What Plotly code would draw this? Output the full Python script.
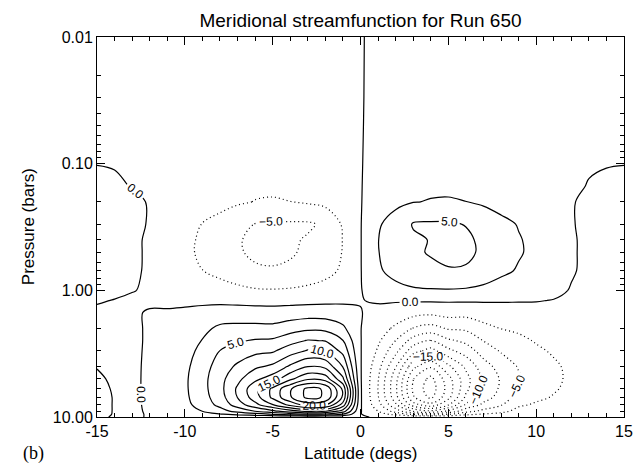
import plotly.graph_objects as go

# latitude (degs) and pressure (bars) of the grid
lat = list(range(-15, 16))
pres = [0.01, 0.03, 0.1, 0.15, 0.2, 0.3, 0.4, 0.5, 0.7, 1.0, 1.2, 1.5,
        2, 2.5, 3, 4, 5, 6, 7, 8, 9, 9.5, 10]

# streamfunction, one row per pressure level (lat -15 .. 15)
psi = [
    [-0.2, -0.2, -0.2, -0.2, -0.2, -0.2, -0.22, -0.25, -0.28, -0.31, -0.33, -0.32, -0.3, -0.25, -0.18, -0.05,
     0.18, 0.25, 0.3, 0.32, 0.33, 0.32, 0.3, 0.27, 0.24, 0.22, 0.2, 0.2, 0.2, 0.2, 0.2],
    [-0.2, -0.2, -0.2, -0.2, -0.2, -0.24, -0.35, -0.44, -0.55, -0.65, -0.67, -0.64, -0.56, -0.46, -0.3, -0.06,
     0.25, 0.48, 0.61, 0.66, 0.67, 0.64, 0.54, 0.42, 0.32, 0.24, 0.2, 0.2, 0.2, 0.2, 0.2],
    [-0.02, -0.08, -0.15, -0.2, -0.34, -0.56, -0.81, -1.04, -1.29, -1.51, -1.57, -1.48, -1.32, -1.06, -0.7, -0.1,
     0.7, 1.12, 1.43, 1.54, 1.57, 1.48, 1.26, 0.98, 0.76, 0.56, 0.34, 0.15, 0.1, 0.05, 0.02],
    [0.25, 0.2, -0.05, -0.3, -0.46, -0.76, -1.1, -1.41, -1.75, -2.05, -2.13, -2.01, -1.79, -1.44, -0.95, -0.1,
     0.95, 1.52, 1.94, 2.09, 2.13, 2.01, 1.71, 1.33, 1.03, 0.76, 0.46, 0.2, -0.05, -0.2, -0.25],
    [0.35, 0.35, 0.25, -0.08, -0.57, -0.95, -1.38, -1.76, -2.19, -2.57, -2.66, -2.52, -2.23, -1.8, -1.19, -0.1,
     1.19, 1.9, 2.42, 2.61, 2.66, 2.52, 2.14, 1.66, 1.28, 0.95, 0.57, 0.08, -0.25, -0.35, -0.35],
    [0.45, 0.45, 0.35, -0.1, -1.06, -1.76, -2.55, -3.26, -4.3, -5.05, -5.3, -5.3, -5.3, -4.6, -2.2, -0.1,
     2.2, 3.6, 5.2, 5.3, 5.3, 4.9, 4.0, 3.08, 2.38, 1.76, 1.06, 0.1, -0.35, -0.5, -0.5],
    [0.55, 0.55, 0.4, -0.3, -1.18, -1.96, -2.84, -3.63, -4.8, -5.5, -5.6, -5.3, -4.8, -3.72, -2.45, -0.1,
     2.45, 3.92, 4.6, 5.1, 5.6, 5.45, 4.5, 3.43, 2.65, 1.96, 1.18, 0.2, -0.4, -0.55, -0.55],
    [0.6, 0.6, 0.4, -0.3, -1.2, -2.0, -2.9, -3.7, -4.7, -5.5, -5.7, -5.25, -4.6, -3.8, -2.4, -0.1,
     2.4, 4.0, 4.7, 5.15, 5.7, 5.5, 4.6, 3.5, 2.7, 2.0, 1.2, 0.2, -0.4, -0.6, -0.6],
    [0.55, 0.5, 0.35, -0.3, -1.02, -1.7, -2.47, -3.15, -3.91, -4.6, -4.75, -4.6, -4.0, -3.23, -2.13, -0.1,
     2.13, 3.4, 4.34, 4.6, 4.8, 4.75, 4.0, 2.98, 2.3, 1.7, 1.02, 0.15, -0.35, -0.5, -0.55],
    [0.4, 0.35, 0.1, -0.3, -0.5, -0.84, -1.22, -1.55, -1.93, -2.27, -2.35, -2.23, -1.97, -1.6, -1.05, -0.1,
     1.05, 1.68, 2.14, 2.31, 2.35, 2.23, 1.89, 1.47, 1.13, 0.84, 0.4, -0.1, -0.4, -0.5, -0.5],
    [0.15, -0.05, -0.35, -0.4, -0.4, -0.4, -0.45, -0.55, -0.69, -0.81, -0.84, -0.8, -0.7, -0.57, -0.4, -0.05,
     0.15, 0.2, 0.25, 0.28, 0.28, 0.27, 0.23, 0.18, 0.13, 0.08, -0.05, -0.3, -0.45, -0.5, -0.5],
    [-0.3, -0.3, -0.3, 0.2, 0.2, 0.32, 0.63, 1.0, 1.06, 1.02, 0.93, 1.15, 1.33, 1.28, 0.88, 0.05,
     -0.4, -0.96, -1.64, -1.92, -1.52, -1.66, -1.19, -0.89, -0.79, -0.6, -0.47, -0.35, -0.4, -0.45, -0.45],
    [-0.3, -0.3, -0.3, 0.2, 0.59, 0.95, 1.89, 3.0, 3.18, 3.19, 3.16, 3.89, 4.5, 4.34, 2.98, 0.05,
     -1.25, -3.0, -5.13, -6.0, -4.75, -4.55, -3.27, -2.46, -2.1, -1.6, -1.24, -0.88, -0.6, -0.45, -0.45],
    [-0.3, -0.3, -0.3, 0.2, 0.81, 1.3, 2.6, 4.15, 4.77, 5.22, 5.39, 6.64, 7.69, 7.4, 5.08, 0.09,
     -2.1, -5.04, -8.61, -10.08, -7.98, -6.9, -4.95, -3.73, -3.05, -2.32, -1.8, -1.28, -0.87, -0.58, -0.45],
    [-0.25, -0.3, -0.3, 0.23, 0.98, 1.58, 3.15, 5.03, 6.04, 6.82, 7.16, 8.82, 10.2, 9.82, 6.74, 0.12,
     -2.8, -6.72, -11.48, -13.44, -10.64, -8.83, -6.34, -4.77, -3.78, -2.88, -2.23, -1.58, -1.08, -0.72, -0.5],
    [-0.05, -0.3, -0.3, 0.28, 1.2, 1.93, 3.86, 6.16, 7.95, 9.57, 10.51, 12.94, 14.97, 14.41, 9.89, 0.17,
     -4.1, -9.84, -16.81, -19.68, -15.58, -12.01, -8.61, -6.48, -4.83, -3.68, -2.85, -2.02, -1.38, -0.92, -0.64],
    [0.2, -0.2, -0.3, 0.3, 1.3, 2.1, 4.2, 6.7, 9.33, 11.89, 13.76, 16.95, 19.61, 18.87, 12.95, 0.22,
     -4.85, -11.64, -19.89, -23.28, -18.43, -13.39, -9.6, -7.23, -5.3, -3.8, -2.95, -2.09, -1.43, -0.95, -0.67],
    [0.3, -0.1, -0.3, 0.3, 1.3, 2.1, 4.2, 6.7, 10.39, 14.21, 18.04, 22.21, 25.7, 24.74, 16.98, 0.29,
     -5.05, -12.0, -20.5, -24.0, -19.0, -13.11, -9.41, -7.08, -4.62, -3.52, -2.73, -1.94, -1.32, -0.88, -0.62],
    [0.3, -0.05, -0.3, 0.29, 1.24, 2.0, 3.99, 6.37, 10.07, 13.78, 18.04, 22.21, 25.7, 24.74, 16.98, 0.29,
     -4.8, -11.52, -19.68, -23.04, -18.24, -12.01, -8.61, -6.48, -3.94, -3.0, -2.33, -1.65, -1.13, -0.75, -0.53],
    [0.3, -0.05, -0.3, 0.26, 1.1, 1.79, 3.57, 5.7, 8.69, 11.75, 14.88, 18.32, 21.2, 20.4, 14.0, 0.24,
     -4.0, -9.6, -16.4, -19.2, -15.2, -9.66, -6.93, -5.22, -2.89, -2.2, -1.71, -1.21, -0.83, -0.55, -0.39],
    [0.3, -0.05, -0.3, 0.2, 0.78, 1.26, 2.52, 4.02, 5.83, 7.54, 9.3, 11.45, 13.25, 12.75, 8.75, 0.15,
     -2.48, -6.0, -10.25, -12.0, -9.5, -5.93, -4.26, -3.2, -1.73, -1.32, -1.02, -0.73, -0.5, -0.33, -0.23],
    [0.25, -0.05, -0.3, 0.15, 0.46, 0.74, 1.47, 2.35, 3.18, 4.2, 5.21, 6.41, 7.42, 7.14, 4.9, 0.1,
     -1.4, -3.36, -5.74, -6.72, -5.32, -3.31, -2.38, -1.79, -0.95, -0.72, -0.56, -0.4, -0.27, -0.18, -0.13],
    [0.1, -0.05, -0.1, 0.05, 0.05, 0.05, 0.05, 0.05, 0.05, 0.05, 0.05, 0.05, 0.05, 0.05, 0.05, 0.05,
     -0.05, -0.05, -0.05, -0.05, -0.05, -0.05, -0.05, -0.05, -0.05, -0.05, -0.05, -0.05, -0.05, -0.05, -0.05],
]

x_ticks = [-15, -10, -5, 0, 5, 10, 15]
y_ticks = [0.01, 0.1, 1, 10]
y_ticktext = ["0.01", "0.10", "1.00", "10.00"]
y_minor = [m * 10.0 ** e for e in (-2, -1, 0) for m in range(2, 10)]

font = "Liberation Sans, Arial, sans-serif"
label_font = dict(size=12, color="black", family=font)

fig = go.Figure()


def add_levels(start, end, labelled, dash):
    fig.add_trace(go.Contour(
        x=lat, y=pres, z=psi, autocontour=False,
        contours=dict(start=start, end=end, size=5, coloring="none",
                      showlabels=labelled, labelformat=".1f", labelfont=label_font),
        line=dict(color="black", width=1.2, dash=dash),
        showscale=False, hoverinfo="skip",
    ))


# every 5.0 is labelled, the 2.5 steps between are not; negatives dotted
add_levels(0, 25, True, "solid")
add_levels(2.5, 22.5, False, "solid")
add_levels(-25, -5, True, "1px,3px")
add_levels(-22.5, -2.5, False, "1px,3px")

fig.update_layout(
    width=644, height=466,
    margin=dict(l=97, r=11, t=37, b=49),
    paper_bgcolor="white", plot_bgcolor="white",
    showlegend=False,
    font=dict(family=font, size=16, color="black"),
    title=dict(text="Meridional streamfunction for Run 650", x=0.5, xref="paper",
               y=1 - 20 / 466, yref="container", yanchor="middle",
               font=dict(size=19, family=font, color="black")),
    annotations=[
        dict(text="Latitude (degs)", xref="paper", yref="paper", x=0.5, y=0,
             yanchor="middle", yshift=-36, showarrow=False, font=dict(size=17, family=font)),
        dict(text="Pressure (bars)", xref="paper", yref="paper", x=(27 - 97) / 536, y=0.5,
             xanchor="center", textangle=-90, showarrow=False, font=dict(size=17, family=font)),
        dict(text="(b)", xref="paper", yref="paper", x=(32 - 97) / 536, y=0, xanchor="center",
             yanchor="middle", yshift=-36, showarrow=False,
             font=dict(size=18, family="Liberation Serif, Times New Roman, serif")),
    ],
)
fig.update_xaxes(
    range=[-15, 15], tickvals=x_ticks, ticktext=[str(v) for v in x_ticks],
    ticks="inside", ticklen=8, tickwidth=1, tickcolor="black",
    showline=True, linecolor="black", linewidth=1, mirror="allticks",
    showgrid=False, zeroline=False,
    minor=dict(ticks="inside", ticklen=4, tickwidth=1, tickcolor="black", dtick=1, tick0=0, showgrid=False),
)
fig.update_yaxes(
    type="log", range=[1, -2], tickvals=y_ticks, ticktext=y_ticktext,
    ticks="inside", ticklen=8, tickwidth=1, tickcolor="black",
    showline=True, linecolor="black", linewidth=1, mirror="allticks",
    showgrid=False, zeroline=False,
    minor=dict(ticks="inside", ticklen=4, tickwidth=1, tickcolor="black",
               tickmode="array", tickvals=y_minor, showgrid=False),
)

# drop the browser's default page margin so the figure sits at the window's corner
fig.write_html("out.html", config={"displayModeBar": False},
               post_script="document.body.style.margin='0px';")
